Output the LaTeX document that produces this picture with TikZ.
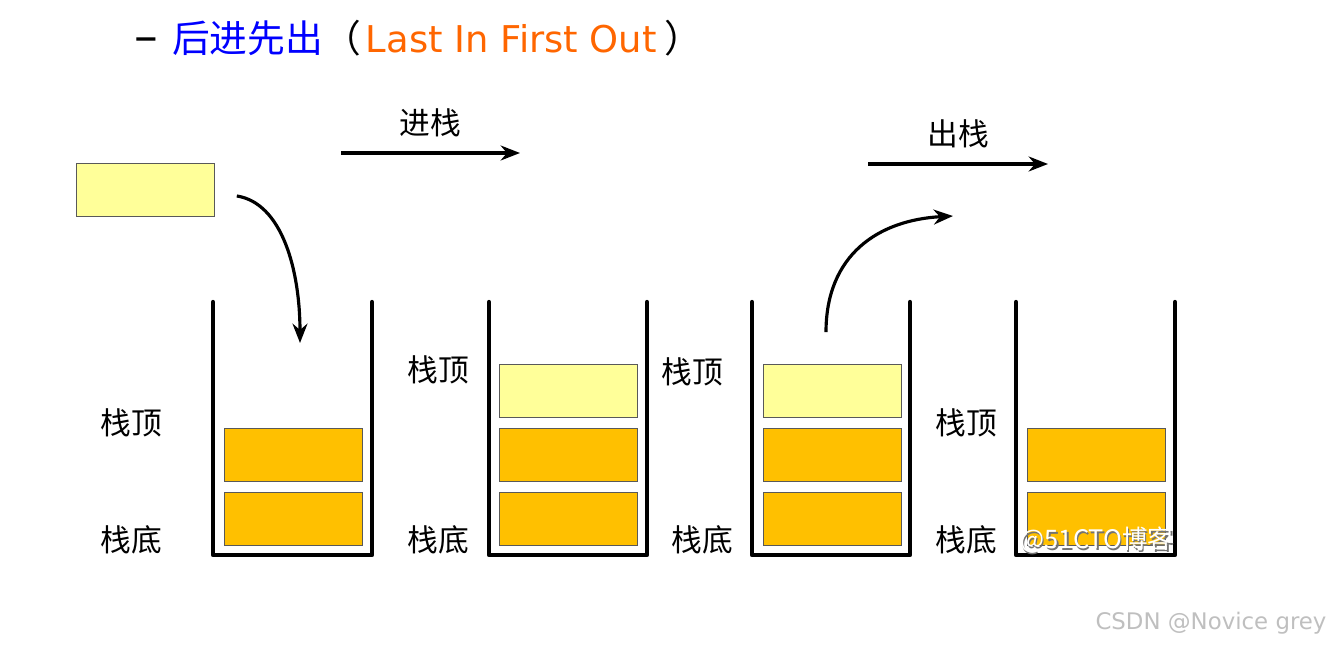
\documentclass[tikz,border=0pt]{standalone}
\usepackage{fontspec}
\setmainfont{Noto Sans CJK SC}
\newfontfamily\latinfont{DejaVu Sans}
\usepackage{tikz}
\usetikzlibrary{calc, positioning, arrows.meta}
\usepackage{xcolor}

\definecolor{lightyellow}{RGB}{255,255,153}
\definecolor{stackorange}{RGB}{255,192,0}
\definecolor{titleorange}{RGB}{255,102,0}

\newcommand{\shadowtext}[1]{%
    \makebox[0pt][l]{\hspace{0.7pt}\raisebox{-0.7pt}{\color{black!55}#1}}{\color{white}#1}}

\begin{document}
\begin{tikzpicture}[
        x=0.02cm, y=-0.02cm,
        box/.style={
            rectangle, draw=black!65, thin, fill=#1,
            minimum width=2.76cm, minimum height=1.06cm,
            inner sep=0pt
        },
        box/.default=stackorange,
        stack/.style={draw, line width=0.085cm, line join=round, line cap=round},
        lbl/.style={font=\fontsize{17.5}{17.5}\selectfont, inner sep=0pt},
        line/.style={draw, line width=1.8pt, -{Stealth[length=11pt, width=8.5pt]}},
        wmark/.style={font=\fontsize{14.5}{14.5}\selectfont, inner sep=0pt}
    ]

    \useasboundingbox (0,0) rectangle (1326,645);

    \node [inner sep=0pt, anchor=west] (title) at (134,38) {%
        {\latinfont\fontsize{27}{27}\selectfont\textendash}\hspace{0.28cm}%
        {\fontsize{21.5}{21.5}\selectfont\color{blue}后进先出}%
        {\fontsize{21.5}{21.5}\selectfont（}\hspace{0.1cm}%
        {\latinfont\fontsize{21}{21}\selectfont\color{titleorange}Last In First Out}%
        \hspace{0.15cm}{\fontsize{21.5}{21.5}\selectfont）}};

    \node [box=lightyellow] (new) at (145.5,190) {};

    \draw [stack] (213,302) |- (372,555) -- (372,302);
    \draw [stack] (489,302) |- (647,555) -- (647,302);
    \draw [stack] (752,302) |- (910,555) -- (910,302);
    \draw [stack] (1016,302) |- (1175,555) -- (1175,302);

    \node [box] (a1) at (293,518.5) {};
    \node [box] (a2) at (293,454.5) {};

    \node [box] (b1) at (568,518.5) {};
    \node [box] (b2) at (568,454.5) {};
    \node [box=lightyellow] (b3) at (568,391) {};

    \node [box] (c1) at (832,518.5) {};
    \node [box] (c2) at (832,454.5) {};
    \node [box=lightyellow] (c3) at (832,391) {};

    \node [box] (d1) at (1096,518.5) {};
    \node [box] (d2) at (1096,454.5) {};

    \node [lbl] (topA) at (131,423) {栈顶};
    \node [lbl] (botA) at (131,540) {栈底};
    \node [lbl] (topB) at (438,370) {栈顶};
    \node [lbl] (botB) at (438,540) {栈底};
    \node [lbl] (topC) at (692,372) {栈顶};
    \node [lbl] (botC) at (702,540) {栈底};
    \node [lbl] (topD) at (966,423) {栈顶};
    \node [lbl] (botD) at (966,540) {栈底};

    \coordinate (pushStart) at (341,153);
    \coordinate (pushEnd) at (520,153);
    \coordinate (popStart) at (868,164);
    \coordinate (popEnd) at (1048,164);
    \coordinate (inTarget) at (300,343);
    \coordinate (outTarget) at (953,216);

    \draw [line] (pushStart) -- node[above=0.28cm, lbl] {进栈} (pushEnd);
    \draw [line] (popStart) -- node[above=0.28cm, lbl] {出栈} (popEnd);

    \draw [line] ([shift={(22,6)}]new.east) .. controls (282,203) and (300,270) .. (inTarget);
    \draw [line] ([shift={(-6,-32)}]c3.north) .. controls (826,255) and (878,220) .. (outTarget);

    \node [wmark] (wm) at (1097,541) {\shadowtext{@51CTO博客}};
    \node [wmark, text=black!25, font=\latinfont\fontsize{13}{13}\selectfont] (csdn) at (1211,623) {CSDN @Novice grey};

\end{tikzpicture}
\end{document}
